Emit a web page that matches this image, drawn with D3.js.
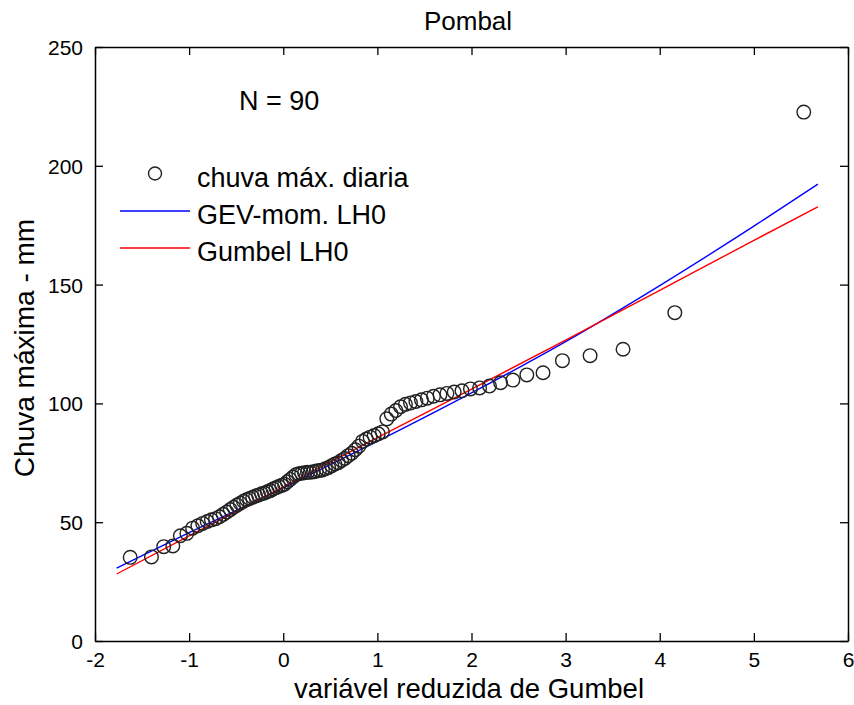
<!DOCTYPE html>
<html>
<head>
<meta charset="utf-8">
<script src="https://cdn.jsdelivr.net/npm/d3@7"></script>
<style>
  html, body { margin: 0; padding: 0; background: #fff; }
  svg text { font-family: "Liberation Sans", Arial, sans-serif; fill: #000; }
</style>
</head>
<body>
<svg id="chart" width="854" height="705"></svg>
<script>
// ---- data ----
const gumbelX = [
  -1.626, -1.400, -1.270, -1.173, -1.093, -1.024, -0.963, -0.907, -0.856, -0.808,
  -0.763, -0.719, -0.678, -0.638, -0.600, -0.563, -0.527, -0.492, -0.457, -0.423,
  -0.390, -0.358, -0.325, -0.293, -0.262, -0.230, -0.200, -0.169, -0.139, -0.108,
  -0.078, -0.048, -0.017, 0.013, 0.043, 0.073, 0.104, 0.134, 0.165, 0.195,
  0.226, 0.257, 0.288, 0.320, 0.351, 0.384, 0.416, 0.448, 0.482, 0.516,
  0.549, 0.584, 0.619, 0.654, 0.690, 0.727, 0.765, 0.803, 0.842, 0.882,
  0.923, 0.966, 1.009, 1.054, 1.100, 1.147, 1.196, 1.246, 1.298, 1.352,
  1.409, 1.468, 1.530, 1.596, 1.665, 1.739, 1.816, 1.899, 1.989, 2.086,
  2.191, 2.309, 2.440, 2.588, 2.760, 2.966, 3.260, 3.610, 4.160, 5.530
];
const rainMax = [
  35.2, 35.4, 39.7, 40.0, 44.3, 45.3, 47.5, 48.5, 49.5, 50.3,
  51.0, 51.5, 52.3, 53.3, 54.3, 55.3, 56.3, 57.2, 58.0, 58.8,
  59.5, 60.0, 60.5, 61.0, 61.5, 62.0, 62.3, 62.8, 63.3, 64.0,
  64.5, 65.0, 65.5, 66.0, 67.0, 68.0, 69.0, 70.0, 70.4, 70.6,
  70.8, 71.0, 71.0, 71.2, 71.5, 71.8, 72.0, 72.5, 73.0, 73.8,
  74.5, 75.0, 76.0, 76.8, 78.0, 79.0, 80.5, 82.0, 84.0, 85.0,
  85.8, 86.5, 87.2, 88.0, 93.5, 95.5, 97.0, 98.6, 99.6, 100.2,
  100.8, 101.5, 102.2, 103.0, 103.6, 104.2, 104.8, 105.3, 106.1, 106.5,
  107.3, 108.7, 109.8, 112.0, 112.9, 118.0, 120.1, 122.8, 138.2, 222.6
];
const curveX   = [-1.77, -1, 0, 1, 2, 3, 4, 5, 5.68];
const gevY     = [30.7, 45.6, 64.4, 84.0, 104.4, 126.0, 149.6, 174.6, 192.3];
const gumbelY  = [28.2, 44.2, 64.9, 85.6, 106.0, 126.6, 147.6, 168.6, 182.7];
const xTicks = [-2, -1, 0, 1, 2, 3, 4, 5, 6];
const yTicks = [0, 50, 100, 150, 200, 250];
const legendLabels = ["chuva máx. diaria", "GEV-mom. LH0", "Gumbel LH0"];
const titleText = "Pombal";
const xLabel = "variável reduzida de Gumbel";
const yLabel = "Chuva máxima - mm";
const nText = "N = 90";

// ---- layout ----
const L = 95, R = 848, T = 47, B = 641;
const svg = d3.select("#chart");
const x = d3.scaleLinear().domain([-2, 6]).range([L, R]);
const y = d3.scaleLinear().domain([0, 250]).range([B, T]);
const fmt = d => String(d);

// axes with inside ticks
const tick = 8;
const gB = svg.append("g").attr("transform", `translate(0,${B})`)
  .call(d3.axisBottom(x).tickValues(xTicks).tickSizeInner(-tick).tickSizeOuter(0).tickPadding(11).tickFormat(fmt));
const gT = svg.append("g").attr("transform", `translate(0,${T})`)
  .call(d3.axisTop(x).tickValues(xTicks).tickSizeInner(-tick).tickSizeOuter(0).tickFormat(""));
const gL = svg.append("g").attr("transform", `translate(${L},0)`)
  .call(d3.axisLeft(y).tickValues(yTicks).tickSizeInner(-tick).tickSizeOuter(0).tickPadding(12).tickFormat(fmt));
const gR = svg.append("g").attr("transform", `translate(${R},0)`)
  .call(d3.axisRight(y).tickValues(yTicks).tickSizeInner(-tick).tickSizeOuter(0).tickFormat(""));
[gB, gT, gL, gR].forEach(g => {
  g.selectAll("path.domain").attr("stroke", "#000").attr("stroke-width", 1.5);
  g.selectAll(".tick line").attr("stroke", "#000").attr("stroke-width", 1.3);
  g.selectAll(".tick text").style("font-family", '"Liberation Sans", Arial, sans-serif')
    .style("font-size", "21px").attr("fill", "#000");
});
gB.selectAll(".tick text").attr("dy", "0.72em");
gL.selectAll(".tick text").attr("dy", "0.36em");

// fitted curves
const lineGen = d3.line().x(d => x(d[0])).y(d => y(d[1])).curve(d3.curveMonotoneX);
svg.append("path").datum(curveX.map((v, i) => [v, gevY[i]]))
  .attr("d", lineGen).attr("fill", "none").attr("stroke", "#0000ff").attr("stroke-width", 1.4);
svg.append("path").datum(curveX.map((v, i) => [v, gumbelY[i]]))
  .attr("d", lineGen).attr("fill", "none").attr("stroke", "#ff0000").attr("stroke-width", 1.4);

// data points
svg.append("g").selectAll("circle").data(gumbelX.map((v, i) => [v, rainMax[i]]))
  .join("circle")
  .attr("cx", d => x(d[0])).attr("cy", d => y(d[1])).attr("r", 6.8)
  .attr("fill", "none").attr("stroke", "#222").attr("stroke-width", 1.4);

// texts
svg.append("text").attr("x", 468).attr("y", 30).attr("text-anchor", "middle")
  .style("font-size", "26px").text(titleText);
svg.append("text").attr("x", 469).attr("y", 698).attr("text-anchor", "middle")
  .style("font-size", "27.5px").text(xLabel);
svg.append("text").attr("transform", "translate(34,348) rotate(-90)").attr("text-anchor", "middle")
  .style("font-size", "28px").text(yLabel);
svg.append("text").attr("x", 239).attr("y", 110).style("font-size", "27px").text(nText);

// legend
const lg = svg.append("g");
lg.append("circle").attr("cx", 155).attr("cy", 173.5).attr("r", 6.5)
  .attr("fill", "none").attr("stroke", "#222").attr("stroke-width", 1.4);
lg.append("line").attr("x1", 120).attr("x2", 190).attr("y1", 211).attr("y2", 211)
  .attr("stroke", "#0000ff").attr("stroke-width", 1.4);
lg.append("line").attr("x1", 120).attr("x2", 190).attr("y1", 248).attr("y2", 248)
  .attr("stroke", "#ff0000").attr("stroke-width", 1.4);
const legY = [187, 224, 261];
legendLabels.forEach((t, i) => {
  lg.append("text").attr("x", 197).attr("y", legY[i]).style("font-size", "27px").text(t);
});
</script>
</body>
</html>
